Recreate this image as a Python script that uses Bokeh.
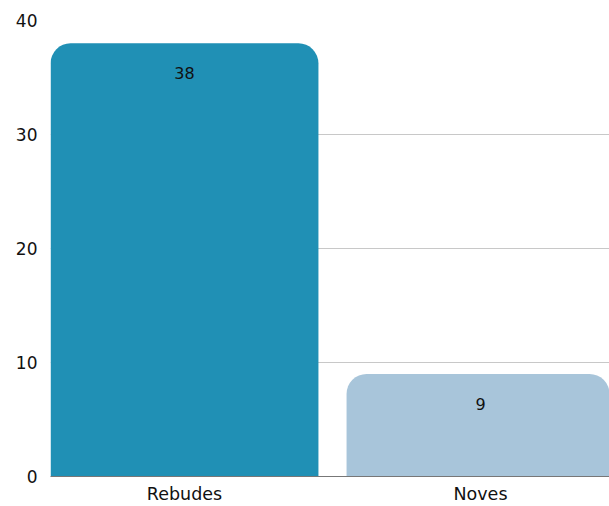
from bokeh.plotting import figure
from bokeh.models import ColumnDataSource, FixedTicker, Range1d
from bokeh.core.properties import value
from bokeh.embed import file_html
from bokeh.resources import INLINE

categories = ["Rebudes", "Noves"]
counts = [38, 9]
colors = ["#2090B5", "#A8C5DA"]
y_ticks = [0, 10, 20, 30, 40]

FONT = "DejaVu Sans"

idx = list(range(len(categories)))
src = ColumnDataSource(dict(x=idx, top=counts, color=colors,
                            label=[str(c) for c in counts]))

p = figure(width=609, height=506, output_backend="svg", toolbar_location=None,
           x_range=Range1d(-0.4527, 1.4358), y_range=Range1d(0, 40),
           min_border_left=50, min_border_right=0, min_border_top=20,
           min_border_bottom=28)
p.outline_line_color = None
p.background_fill_color = "white"

p.vbar(x="x", top="top", bottom=0, width=0.905, color="color", source=src,
       line_color=None, border_radius=(20, 20, 0, 0))

p.text(x="x", y="top", text="label", source=src, text_align="center",
       text_baseline="middle", y_offset=30, text_color="#111111",
       text_font=value(FONT), text_font_size="16px")

p.xgrid.visible = False
p.ygrid.grid_line_color = "#c8c8c8"
p.ygrid.grid_line_width = 1
p.ygrid.ticker = FixedTicker(ticks=y_ticks)

p.yaxis.ticker = FixedTicker(ticks=y_ticks)
p.yaxis.axis_line_color = None
p.yaxis.major_tick_line_color = None
p.yaxis.minor_tick_line_color = None
p.yaxis.major_tick_out = 0
p.yaxis.major_label_standoff = 13
p.yaxis.major_label_text_font = FONT
p.yaxis.major_label_text_font_size = "17px"
p.yaxis.major_label_text_color = "#111111"

p.xaxis.ticker = FixedTicker(ticks=idx)
p.xaxis.major_label_overrides = {i: c for i, c in zip(idx, categories)}
p.xaxis.axis_line_color = "#777777"
p.xaxis.major_tick_line_color = None
p.xaxis.minor_tick_line_color = None
p.xaxis.major_tick_out = 0
p.xaxis.major_label_standoff = 7
p.xaxis.major_label_text_font = FONT
p.xaxis.major_label_text_font_size = "17.5px"
p.xaxis.major_label_text_color = "#111111"

open("out.html", "w").write(file_html(p, INLINE))
